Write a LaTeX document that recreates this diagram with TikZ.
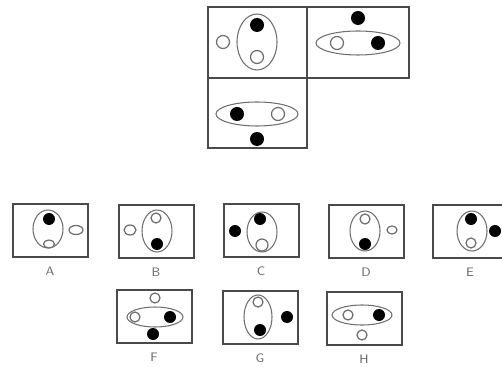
\documentclass[tikz,border=0pt]{standalone}
\usepackage{xcolor}
\definecolor{frame}{HTML}{4A4A4A}
\definecolor{rimgray}{HTML}{6E6E6E}
\definecolor{muted}{HTML}{6A6A6A}
\usepackage{tikz}

\begin{document}
\begin{tikzpicture}[
  x=0.02cm, y=-0.02cm,
  font=\scriptsize\sffamily,
  panel/.style={draw=frame, line width=0.9pt},
  ovalline/.style={draw=rimgray, line width=0.6pt},
  wdot/.style={draw=rimgray, fill=white, line width=0.7pt},
  bdot/.style={fill=black}
]
  \useasboundingbox (0,0) rectangle (502,367);

  % question grid
  \draw[panel] (208,7) rectangle (307,78);
  \draw[panel] (307,7) rectangle (409,78);
  \draw[panel] (208,78) rectangle (307,148);

  \draw[ovalline] (257,42) ellipse[x radius=20, y radius=28];
  \fill[bdot] (257,25) circle[radius=7];
  \draw[wdot] (257,57) circle[radius=6.5];
  \draw[wdot] (223,42) circle[radius=6.5];

  \fill[bdot] (358,18) circle[radius=7];
  \draw[ovalline] (358,43) ellipse[x radius=42, y radius=12];
  \draw[wdot] (337,43) circle[radius=6.5];
  \fill[bdot] (378,43) circle[radius=7];

  \draw[ovalline] (257,114) ellipse[x radius=41, y radius=12];
  \fill[bdot] (237,114) circle[radius=7];
  \draw[wdot] (278,114) circle[radius=6.5];
  \fill[bdot] (257,139) circle[radius=7];

  % answer boxes
  \foreach \x/\y/\lab in {13/204/A, 119/205/B, 224/204/C, 329/205/D,
                          433/205/E, 117/290/F, 223/291/G, 327/292/H} {
    \draw[panel] (\x,\y) rectangle ++(75,53);
    \node[muted] (lab\lab) at (\x+37,\y+67) {\lab};
  }

  % A
  \draw[ovalline] (48,229) ellipse[x radius=15, y radius=19];
  \fill[bdot] (49,219) circle[radius=6];
  \draw[wdot] (49,244) ellipse[x radius=5.5, y radius=4];
  \draw[wdot] (76,230) ellipse[x radius=7, y radius=4.5];
  % B
  \draw[ovalline] (157,231) ellipse[x radius=15, y radius=21];
  \draw[wdot] (156,218) circle[radius=5];
  \fill[bdot] (157,244) circle[radius=6];
  \draw[wdot] (130,230) ellipse[x radius=6, y radius=5];
  % C
  \draw[ovalline] (262,232) ellipse[x radius=15, y radius=20];
  \fill[bdot] (260,219) circle[radius=6];
  \draw[wdot] (262,245) circle[radius=6];
  \fill[bdot] (235,231) circle[radius=6];
  % D
  \draw[ovalline] (365,231) ellipse[x radius=15, y radius=20];
  \draw[wdot] (365,219) circle[radius=5];
  \fill[bdot] (365,244) circle[radius=6];
  \draw[wdot] (392,230) ellipse[x radius=5, y radius=4];
  % E
  \draw[ovalline] (472,231) ellipse[x radius=15, y radius=20];
  \fill[bdot] (471,219) circle[radius=6];
  \draw[wdot] (471,243) circle[radius=5];
  \fill[bdot] (495,231) circle[radius=6];
  % F
  \draw[ovalline] (155,317) ellipse[x radius=28, y radius=10];
  \draw[wdot] (135,317) circle[radius=5];
  \fill[bdot] (170,317) circle[radius=6];
  \draw[wdot] (155,298) circle[radius=5];
  \fill[bdot] (153,334) circle[radius=6];
  % G
  \draw[ovalline] (258,317) ellipse[x radius=14, y radius=22];
  \draw[wdot] (258,302) circle[radius=5];
  \fill[bdot] (260,330) circle[radius=6];
  \fill[bdot] (287,317) circle[radius=6];
  % H
  \draw[ovalline] (362,315) ellipse[x radius=30, y radius=10];
  \draw[wdot] (348,315) circle[radius=5];
  \fill[bdot] (379,315) circle[radius=6];
  \draw[wdot] (362,335) circle[radius=5];
\end{tikzpicture}
\end{document}
